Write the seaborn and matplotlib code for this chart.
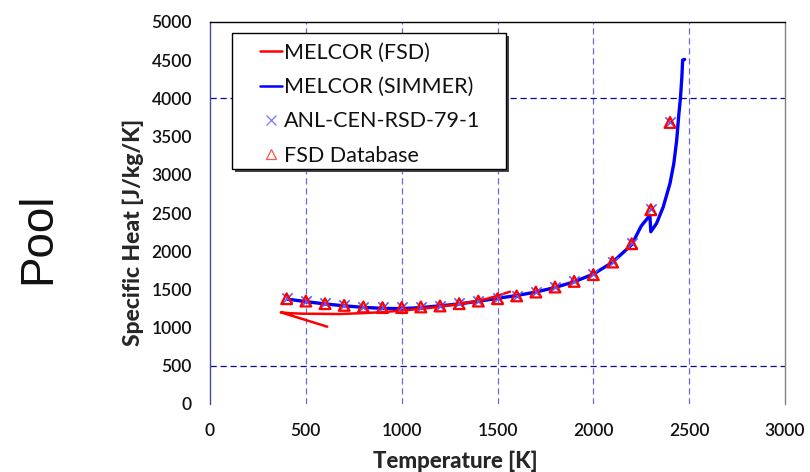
import matplotlib
matplotlib.use("Agg")
import matplotlib.pyplot as plt
from matplotlib.patches import Rectangle
from matplotlib.lines import Line2D
import seaborn as sns
import pandas as pd

# MELCOR with FSD property tables
fsd_temp = [612, 369, 420, 487, 580, 678, 774, 887, 991, 1100, 1200, 1290, 1374, 1450, 1513, 1565]
fsd_cp = [1012, 1200, 1188, 1182, 1180, 1178, 1187, 1200, 1221, 1245, 1274, 1305, 1339, 1380, 1427, 1470]

# MELCOR with SIMMER property tables
simmer_temp = [405, 500, 600, 700, 800, 900, 1000, 1100, 1200, 1300, 1400, 1500, 1600, 1700,
               1800, 1900, 2000, 2100, 2200, 2250, 2295, 2300, 2330, 2365, 2400, 2420, 2435,
               2445, 2455, 2462, 2466, 2476]
simmer_cp = [1372, 1340, 1310, 1285, 1265, 1252, 1248, 1262, 1285, 1310, 1345, 1383, 1420, 1465,
             1525, 1600, 1700, 1855, 2085, 2330, 2470, 2255, 2365, 2582, 2888, 3150, 3455,
             3760, 4022, 4284, 4503, 4510]

# Reference correlation points
anl_temp = [400, 500, 600, 700, 800, 900, 1000, 1100, 1200, 1300, 1400, 1500, 1600, 1700,
            1800, 1900, 2000, 2100, 2200, 2300, 2400]
anl_cp = [1383, 1352, 1318, 1296, 1274, 1266, 1266, 1274, 1287, 1318, 1352, 1383, 1420, 1470,
          1536, 1610, 1698, 1863, 2103, 2548, 3690]

db_temp = [400, 500, 600, 700, 800, 900, 1000, 1100, 1200, 1300, 1400, 1500, 1600, 1700,
           1800, 1900, 2000, 2100, 2200, 2300, 2400]
db_cp = [1378, 1347, 1313, 1291, 1270, 1262, 1262, 1270, 1283, 1313, 1347, 1378, 1415, 1465,
         1531, 1605, 1693, 1858, 2098, 2543, 3685]

x_ticks = [0, 500, 1000, 1500, 2000, 2500, 3000]
y_ticks = [0, 500, 1000, 1500, 2000, 2500, 3000, 3500, 4000, 4500, 5000]

sns.set_style("white")
plt.rcParams["font.family"] = ["Lato", "DejaVu Sans"]

W, H = 810, 472
fig = plt.figure(figsize=(W / 100, H / 100), dpi=100)
L, R, T, B = 210, 785, 22, 404
ax = fig.add_axes([L / W, 1 - B / H, (R - L) / W, (B - T) / H])

navy = "#1a1a80"

# gridlines
for xv in [500, 1000, 1500, 2000, 2500]:
    ax.axvline(xv, color="#6a6ad0", lw=0.9, ls=(0, (5, 3)), zorder=0)
for yv in [500, 4000]:
    ax.axhline(yv, color="#0a0a90", lw=0.9, ls=(0, (5, 3)), zorder=0)

df_fsd = pd.DataFrame({"T": fsd_temp, "cp": fsd_cp})
df_sim = pd.DataFrame({"T": simmer_temp, "cp": simmer_cp})
df_anl = pd.DataFrame({"T": anl_temp, "cp": anl_cp})
df_db = pd.DataFrame({"T": db_temp, "cp": db_cp})

sns.lineplot(data=df_sim, x="T", y="cp", sort=False, estimator=None, color="#0000ff",
             lw=2.4, ax=ax, zorder=3)
sns.lineplot(data=df_fsd, x="T", y="cp", sort=False, estimator=None, color="#ff0000",
             lw=1.8, ax=ax, zorder=4)
sns.scatterplot(data=df_anl, x="T", y="cp", marker="x", s=55, color="#5a5aff",
                linewidth=1.2, ax=ax, zorder=5)
sns.scatterplot(data=df_db, x="T", y="cp", marker="^", s=60, facecolor="none",
                edgecolor="#ff0000", linewidth=1.6, ax=ax, zorder=6)

ax.set_xlim(0, 3000)
ax.set_ylim(0, 5000)
ax.set_xticks(x_ticks)
ax.set_yticks(y_ticks)
ax.set_xticklabels([str(v) for v in x_ticks])
ax.set_yticklabels([str(v) for v in y_ticks])
ax.tick_params(axis="both", direction="out", length=6, width=1.4, color=navy,
               labelsize=12.5, labelcolor="#111111")
ax.tick_params(axis="y", pad=7)
ax.tick_params(axis="x", pad=8)
for lab in ax.get_xticklabels() + ax.get_yticklabels():
    lab.set_fontweight("semibold")

ax.spines["left"].set_color("#4a4a9a")
ax.spines["left"].set_linewidth(1.0)
ax.spines["right"].set_color("#808080")
ax.spines["right"].set_linewidth(1.0)
ax.spines["top"].set_color("black")
ax.spines["top"].set_linewidth(1.0)
ax.spines["bottom"].set_visible(False)

label_font = ["Lato", "DejaVu Sans"]
ax.set_xlabel("Temperature [K]", family=label_font, fontweight=900, fontsize=16)
ax.set_ylabel("Specific Heat [J/kg/K]", family=label_font, fontweight=900, fontsize=16.5)
ax.xaxis.label.set_va("center")
ax.yaxis.label.set_va("center")
ax.xaxis.set_label_coords((455 - L) / (R - L), (B - 461) / (B - T))
ax.yaxis.set_label_coords((133 - L) / (R - L), (B - 232) / (B - T))

fig.text(38 / W, 1 - 238 / H, "Pool", rotation=90, ha="center", va="center",
         fontsize=33, family=["Liberation Sans", "DejaVu Sans"], color="#111111")

# legend box with drop shadow
lx0, lx1, ly0, ly1 = 232, 506, 33, 169
def to_ax(px, py):
    return (px - L) / (R - L), (B - py) / (B - T)
sx, sy = to_ax(lx0 + 3, ly1 + 3)
sw = (lx1 - lx0) / (R - L)
sh = (ly1 - ly0) / (B - T)
ax.add_patch(Rectangle((sx, sy), sw, sh, transform=ax.transAxes, facecolor="#444444",
                       edgecolor="none", zorder=8, clip_on=False))
bx, by = to_ax(lx0, ly1)
ax.add_patch(Rectangle((bx, by), sw, sh, transform=ax.transAxes, facecolor="white",
                       edgecolor="black", lw=1.0, zorder=9, clip_on=False))

handles = [
    Line2D([], [], color="#ff0000", lw=1.8),
    Line2D([], [], color="#0000ff", lw=1.8),
    Line2D([], [], ls="none", marker="x", color="#7a7aff", markersize=7, mew=0.9),
    Line2D([], [], ls="none", marker="^", mfc="none", mec="#ff5050", markersize=7, mew=0.9),
]
labels = ["MELCOR (FSD)", "MELCOR (SIMMER)", "ANL-CEN-RSD-79-1", "FSD Database"]
leg = ax.legend(handles, labels, loc="upper left", bbox_to_anchor=to_ax(260, 43),
                frameon=False, fontsize=15.5, handlelength=1.0, handletextpad=0.12,
                labelspacing=0.66, borderpad=0.0, borderaxespad=0.0)
leg.set_zorder(10)
for t in leg.get_texts():
    t.set_color("#111111")

fig.savefig("out.png", dpi=100)
